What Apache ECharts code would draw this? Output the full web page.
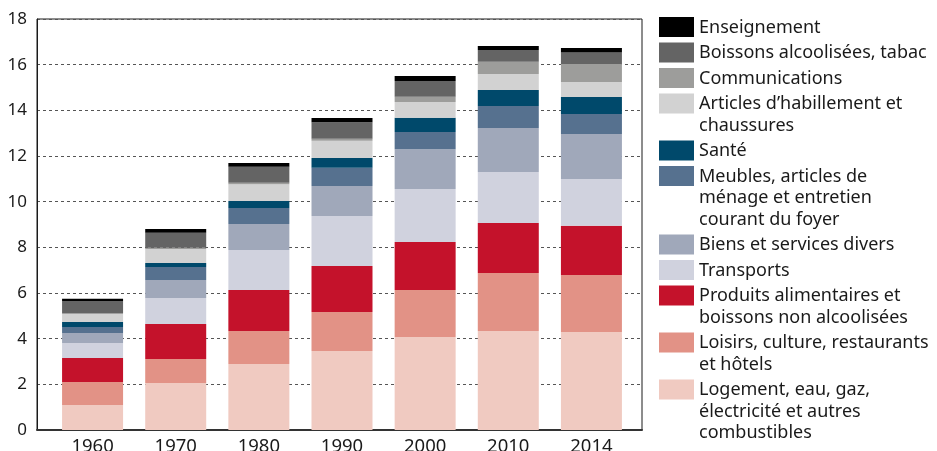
<!DOCTYPE html>
<html>
<head>
<meta charset="utf-8">
<script src="https://cdn.jsdelivr.net/npm/echarts@6/dist/echarts.min.js"></script>
<style>
  html, body { margin: 0; padding: 0; background: #fff; }
  #main { width: 937px; height: 451px; }
</style>
</head>
<body>
<div id="main"></div>
<script>
var years = ['1960', '1970', '1980', '1990', '2000', '2010', '2014'];

// bas de la pile vers le haut
var logement = [1.10, 2.06, 2.89, 3.46, 4.07, 4.34, 4.29];
var loisirs = [1.00, 1.05, 1.45, 1.71, 2.06, 2.54, 2.50];
var produits = [1.05, 1.53, 1.79, 2.01, 2.10, 2.19, 2.15];
var transports = [0.66, 1.14, 1.75, 2.19, 2.32, 2.23, 2.05];
var biens = [0.44, 0.79, 1.14, 1.32, 1.75, 1.93, 1.97];
var meubles = [0.26, 0.57, 0.70, 0.79, 0.75, 0.96, 0.88];
var sante = [0.22, 0.17, 0.31, 0.43, 0.62, 0.70, 0.74];
var articles = [0.35, 0.62, 0.73, 0.76, 0.70, 0.70, 0.66];
var communications = [0.03, 0.05, 0.07, 0.09, 0.22, 0.54, 0.79];
var boissons = [0.54, 0.66, 0.70, 0.72, 0.69, 0.51, 0.50];
var enseignement = [0.10, 0.16, 0.16, 0.18, 0.22, 0.18, 0.20];

var yTicks = [0, 2, 4, 6, 8, 10, 12, 14, 16, 18];

var names = [
    'Logement, eau, gaz,\nélectricité et autres\ncombustibles',
    'Loisirs, culture, restaurants\net hôtels',
    'Produits alimentaires et\nboissons non alcoolisées',
    'Transports',
    'Biens et services divers',
    'Meubles, articles de\nménage et entretien\ncourant du foyer',
    'Santé',
    'Articles d’habillement et\nchaussures',
    'Communications',
    'Boissons alcoolisées, tabac',
    'Enseignement'
];
var values = [logement, loisirs, produits, transports, biens, meubles, sante, articles, communications, boissons, enseignement];
var colors = ['#f0cac1', '#e29286', '#c4122b', '#d0d2de', '#a0a8ba', '#56718f', '#00496b', '#d2d2d2', '#9d9d9b', '#646464', '#000000'];

var FONT = 'Noto Sans';
var LH = 21.5;
var BOX_W = 35, BOX_H = 20;

var myChart = echarts.init(document.getElementById('main'));

var series = names.map(function (n, i) {
    return {
        name: n,
        type: 'bar',
        stack: 'total',
        xAxisIndex: 1,
        yAxisIndex: 1,
        barWidth: 61,
        itemStyle: { color: colors[i] },
        emphasis: { disabled: true },
        data: values[i]
    };
});

// une légende par poste (ordre inverse de la pile),
// carré calé sur la première ligne du texte
var legends = [];
var y = 17;
names.slice().reverse().forEach(function (n) {
    var lines = n.split('\n').length;
    var h = Math.max(BOX_H, lines * LH);
    legends.push({
        orient: 'vertical',
        left: 659,
        top: y,
        padding: 0,
        itemWidth: BOX_W,
        itemHeight: h,
        selectedMode: false,
        icon: 'path://M0,0L' + BOX_W + ',0L' + BOX_W + ',' + BOX_H + 'L0,' + BOX_H + 'Z M0,' + h + 'L' + BOX_W + ',' + h,
        textStyle: { fontFamily: FONT, fontSize: 18, color: '#1a1a1a', lineHeight: LH },
        data: [n]
    });
    y += lines * LH + 4;
});

var option = {
    animation: false,
    textStyle: { fontFamily: FONT },
    legend: legends,
    grid: [
        { left: 37, top: 19, width: 605, height: 411, outerBoundsMode: 'none', show: true, borderColor: '#1a1a1a', borderWidth: 1, backgroundColor: 'transparent' },
        { left: 51, top: 19, width: 582, height: 411, outerBoundsMode: 'none' }
    ],
    xAxis: [
        {
            type: 'category', gridIndex: 0, data: years,
            axisLine: { show: true, lineStyle: { color: '#333', width: 2 } },
            axisTick: { show: false }, axisLabel: { show: false }
        },
        {
            type: 'category', gridIndex: 1, data: years,
            axisLine: { show: false }, axisTick: { show: false },
            axisLabel: { fontFamily: FONT, fontSize: 18.5, color: '#1a1a1a', margin: 7 }
        }
    ],
    yAxis: [
        {
            type: 'value', gridIndex: 0, min: yTicks[0], max: yTicks[yTicks.length - 1], interval: 2,
            axisLine: { show: true, lineStyle: { color: '#1a1a1a', width: 1 } },
            axisTick: { show: false },
            axisLabel: { fontFamily: FONT, fontSize: 17, color: '#1a1a1a', margin: 10 },
            splitLine: { show: true, lineStyle: { color: '#555', type: [3, 3], width: 1 } }
        },
        {
            type: 'value', gridIndex: 1, min: yTicks[0], max: yTicks[yTicks.length - 1],
            show: false, splitLine: { show: false }
        }
    ],
    series: series
};

myChart.setOption(option);
</script>
</body>
</html>
